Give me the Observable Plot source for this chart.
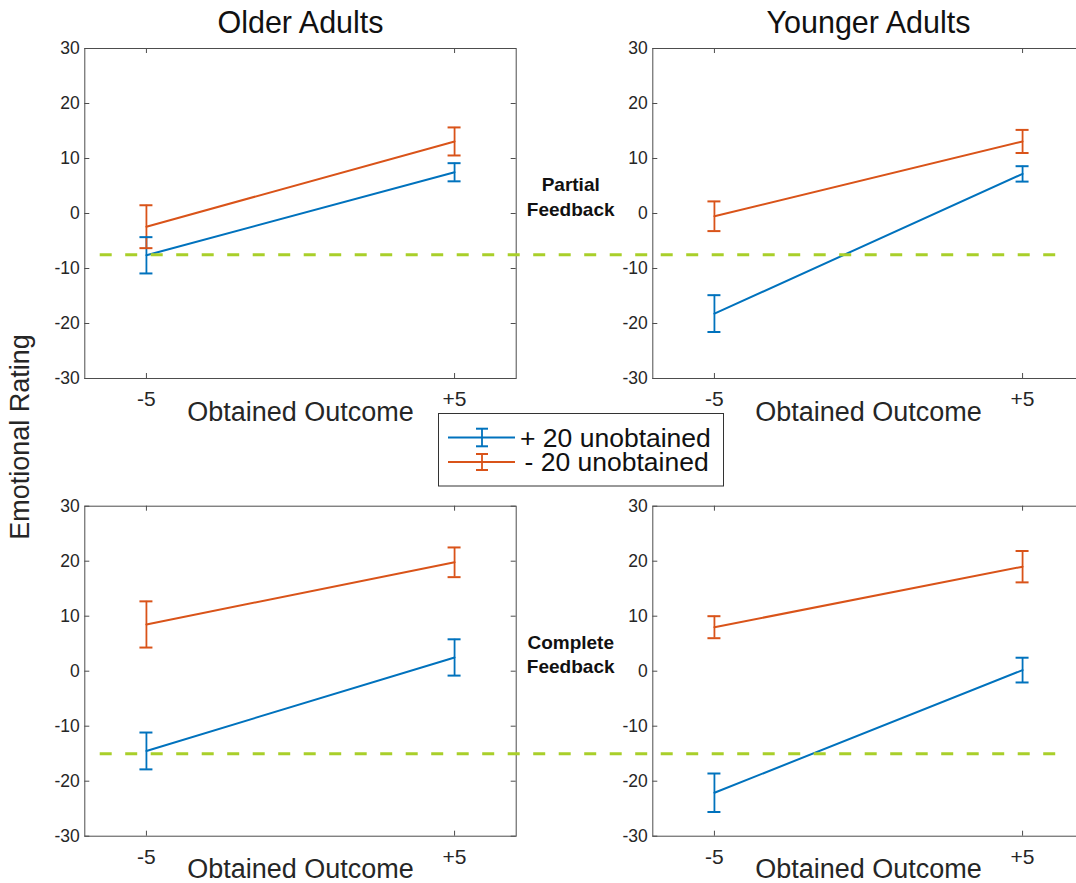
<!DOCTYPE html>
<html>
<head>
<meta charset="utf-8">
<script src="https://cdn.jsdelivr.net/npm/d3@7"></script>
<script src="https://cdn.jsdelivr.net/npm/@observablehq/plot@0.6"></script>
<style>
  html, body { margin: 0; padding: 0; background: #fff; overflow: hidden; }
  #wrap { position: relative; width: 1076px; height: 883px; overflow: hidden; }
  #wrap svg.overlay { position: absolute; left: 0; top: 0; pointer-events: none; }
</style>
</head>
<body>
<div id="wrap"></div>
<script>
// ---------- data ----------
const ages = ["Older Adults", "Younger Adults"];
const feedbackTypes = ["Partial", "Complete"];
const feedbackLabels = ["Partial\nFeedback", "Complete\nFeedback"];
const conditions = ["+ 20 unobtained", "- 20 unobtained"];
const outcomes = [-5, 5];
const outcomeLabels = ["-5", "+5"];
const yTicks = [-30, -20, -10, 0, 10, 20, 30];
const xDomain = [-7, 7];
const yDomain = [-30, 30];

// mean ratings at obtained outcome -5 and +5, with error-bar half lengths
const olderPartialPlus = [-7.6, 7.5];
const olderPartialPlusErr = [3.3, 1.65];
const olderPartialMinus = [-2.4, 13.1];
const olderPartialMinusErr = [3.9, 2.55];
const youngerPartialPlus = [-18.2, 7.2];
const youngerPartialPlusErr = [3.35, 1.4];
const youngerPartialMinus = [-0.5, 13.1];
const youngerPartialMinusErr = [2.7, 2.1];
const olderCompletePlus = [-14.5, 2.5];
const olderCompletePlusErr = [3.35, 3.3];
const olderCompleteMinus = [8.5, 19.8];
const olderCompleteMinusErr = [4.2, 2.7];
const youngerCompletePlus = [-22.1, 0.2];
const youngerCompletePlusErr = [3.5, 2.25];
const youngerCompleteMinus = [8.0, 19.0];
const youngerCompleteMinusErr = [2.0, 2.85];

// dashed reference levels (partial, complete) and their horizontal extent
const referenceLevels = [-7.5, -15];
const referenceSpan = [-6.5, 24.6]; // in left-panel x units, runs across into the right panel

// ---------- build table ----------
const series = [
  [ages[0], feedbackTypes[0], conditions[0], olderPartialPlus, olderPartialPlusErr],
  [ages[0], feedbackTypes[0], conditions[1], olderPartialMinus, olderPartialMinusErr],
  [ages[1], feedbackTypes[0], conditions[0], youngerPartialPlus, youngerPartialPlusErr],
  [ages[1], feedbackTypes[0], conditions[1], youngerPartialMinus, youngerPartialMinusErr],
  [ages[0], feedbackTypes[1], conditions[0], olderCompletePlus, olderCompletePlusErr],
  [ages[0], feedbackTypes[1], conditions[1], olderCompleteMinus, olderCompleteMinusErr],
  [ages[1], feedbackTypes[1], conditions[0], youngerCompletePlus, youngerCompletePlusErr],
  [ages[1], feedbackTypes[1], conditions[1], youngerCompleteMinus, youngerCompleteMinusErr]
];
const rows = series.flatMap(([age, feedback, cond, m, e]) =>
  outcomes.map((o, i) => ({age, feedback, cond, outcome: o, mean: m[i], err: e[i]})));
const refRows = feedbackTypes.map((f, i) => ({age: ages[0], feedback: f, level: referenceLevels[i]}));

// ---------- style ----------
const blue = "#0072BD", orange = "#D95319", green = "#a9cf2a";
const axisColor = "#4d4d4d";
const font = "'Liberation Sans', Arial, Helvetica, sans-serif";

const chart = Plot.plot({
  width: 1090,
  height: 883,
  marginLeft: 84.3,
  marginRight: 6.3,
  marginTop: 48,
  marginBottom: 47.3,
  facet: {marginTop: 0, marginRight: 0, marginBottom: 0, marginLeft: 0},
  fx: {domain: ages, paddingInner: 0.2405, paddingOuter: 0, round: false, axis: null},
  fy: {domain: feedbackTypes, paddingInner: 0.279, paddingOuter: 0, round: false, axis: null},
  x: {domain: xDomain, axis: null},
  y: {domain: yDomain, axis: null},
  color: {domain: conditions, range: [blue, orange]},
  style: {fontFamily: font, fontSize: "17px", color: "#262626", background: "transparent", overflow: "visible", maxWidth: "none"},
  marks: [
    Plot.frame({stroke: axisColor, strokeWidth: 1}),
    // inward ticks on all four sides
    Plot.ruleX(outcomes, {x: d => d, y1: yDomain[0], y2: yDomain[0], insetTop: -5, stroke: axisColor}),
    Plot.ruleX(outcomes, {x: d => d, y1: yDomain[1], y2: yDomain[1], insetBottom: -5, stroke: axisColor}),
    Plot.ruleY(yTicks, {y: d => d, x1: xDomain[0], x2: xDomain[0], insetRight: -5, stroke: axisColor}),
    Plot.ruleY(yTicks, {y: d => d, x1: xDomain[1], x2: xDomain[1], insetLeft: -5, stroke: axisColor}),
    // tick labels
    Plot.text(yTicks, {y: d => d, text: d => String(d), frameAnchor: "left", dx: -5, textAnchor: "end", lineAnchor: "middle", fontSize: 17.5}),
    Plot.text(outcomes, {x: d => d, text: (d, i) => outcomeLabels[i], frameAnchor: "bottom", dy: 13, lineAnchor: "top", fontSize: 21}),
    // axis labels and titles
    Plot.text(["Obtained Outcome"], {text: d => d, frameAnchor: "bottom", dy: 23, lineAnchor: "top", fontSize: 27}),
    Plot.text(ages, {fx: d => d, fy: () => feedbackTypes[0], text: d => d, frameAnchor: "top", dy: -16, lineAnchor: "bottom", fontSize: 30.5, fill: "#111"}),
    Plot.text(feedbackTypes, {fx: () => ages[0], fy: d => d, text: (d, i) => feedbackLabels[i], frameAnchor: "right", dx: 54.5, dy: -18, lineAnchor: "middle", textAnchor: "middle", lineHeight: 1.3, fontSize: 19, fontWeight: "bold", fill: "#111"}),
    // error bars
    Plot.ruleX(rows, {x: "outcome", y1: d => d.mean - d.err, y2: d => d.mean + d.err, stroke: "cond", strokeWidth: 1.8, fx: "age", fy: "feedback"}),
    Plot.ruleY(rows, {y: d => d.mean + d.err, x1: "outcome", x2: "outcome", insetLeft: -6.5, insetRight: -6.5, stroke: "cond", strokeWidth: 2, fx: "age", fy: "feedback"}),
    Plot.ruleY(rows, {y: d => d.mean - d.err, x1: "outcome", x2: "outcome", insetLeft: -6.5, insetRight: -6.5, stroke: "cond", strokeWidth: 2, fx: "age", fy: "feedback"}),
    // mean lines
    Plot.line(rows, {x: "outcome", y: "mean", z: "cond", stroke: "cond", strokeWidth: 2, fx: "age", fy: "feedback"}),
    // dashed reference line across both panels of a row
    Plot.ruleY(refRows, {y: "level", x1: referenceSpan[0], x2: referenceSpan[1], fx: "age", fy: "feedback", stroke: green, strokeWidth: 3, strokeDasharray: "12,13.5"})
  ]
});
const wrap = document.getElementById("wrap");
wrap.appendChild(chart);

// ---------- overlay: y label and legend ----------
const NS = "http://www.w3.org/2000/svg";
const ov = document.createElementNS(NS, "svg");
ov.setAttribute("class", "overlay");
ov.setAttribute("width", 1076);
ov.setAttribute("height", 883);
ov.setAttribute("font-family", font);
function el(name, attrs, text) {
  const e = document.createElementNS(NS, name);
  for (const k in attrs) e.setAttribute(k, attrs[k]);
  if (text != null) e.textContent = text;
  ov.appendChild(e);
  return e;
}
el("text", {transform: "translate(29,437) rotate(-90)", "text-anchor": "middle", "font-size": 27, fill: "#262626"}, "Emotional Rating");

el("rect", {x: 438.5, y: 413.5, width: 285, height: 72.5, fill: "#fff", stroke: "#333", "stroke-width": 1});
const legendRows = [
  {cond: conditions[0], color: blue, y: 437.5, half: 8.8, tx: 520},
  {cond: conditions[1], color: orange, y: 462, half: 8, tx: 524.5}
];
for (const r of legendRows) {
  el("line", {x1: 448, x2: 515, y1: r.y, y2: r.y, stroke: r.color, "stroke-width": 2});
  el("line", {x1: 482, x2: 482, y1: r.y - r.half, y2: r.y + r.half, stroke: r.color, "stroke-width": 1.8});
  el("line", {x1: 476, x2: 488, y1: r.y - r.half, y2: r.y - r.half, stroke: r.color, "stroke-width": 2});
  el("line", {x1: 476, x2: 488, y1: r.y + r.half, y2: r.y + r.half, stroke: r.color, "stroke-width": 2});
  el("text", {x: r.tx, y: r.y + 9, "font-size": 26.5, fill: "#111"}, r.cond);
}
wrap.appendChild(ov);
</script>
</body>
</html>
